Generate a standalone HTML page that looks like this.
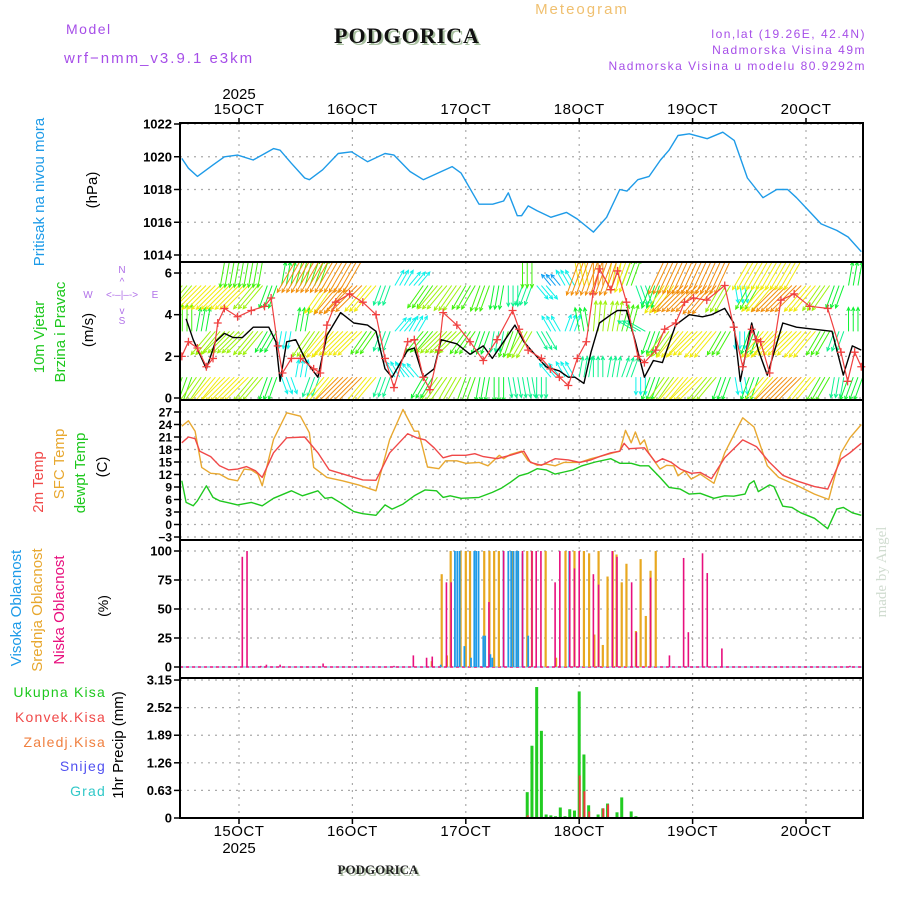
<!DOCTYPE html>
<html><head><meta charset="utf-8"><style>
html,body{margin:0;padding:0;background:#fff;width:900px;height:900px;overflow:hidden}
svg{display:block}
text{font-family:"Liberation Sans",sans-serif}
text.serif{font-family:"Liberation Serif",serif}
</style></head><body>
<svg id="chart" width="900" height="900" viewBox="0 0 900 900" xmlns="http://www.w3.org/2000/svg">
<defs>
<clipPath id="clipWind"><rect x="180" y="263" width="683" height="136"/></clipPath>
</defs>
<g id="header">
<text x="66" y="34" fill="#a64ee8" font-size="14" letter-spacing="1.5">Model</text>
<text x="64" y="63" fill="#a64ee8" font-size="15" letter-spacing="2">wrf−nmm_v3.9.1 e3km</text>
<text class="serif" x="409" y="45" text-anchor="middle" fill="#a8c0a0" font-weight="bold" font-size="22" letter-spacing="1">PODGORICA</text>
<text class="serif" x="407" y="43" text-anchor="middle" fill="#111" font-weight="bold" font-size="22" letter-spacing="1">PODGORICA</text>
<text x="582" y="14" text-anchor="middle" fill="#f0c070" font-size="15" letter-spacing="2">Meteogram</text>
<text x="866" y="38" text-anchor="end" fill="#a64ee8" font-size="12" letter-spacing="1.5">lon,lat (19.26E, 42.4N)</text>
<text x="866" y="54" text-anchor="end" fill="#a64ee8" font-size="12" letter-spacing="1.5">Nadmorska Visina 49m</text>
<text x="866" y="70" text-anchor="end" fill="#a64ee8" font-size="12" letter-spacing="1.5">Nadmorska Visina u modelu 80.9292m</text>
</g>
<g id="grid"></g>
<g id="series"></g>
<g id="frames"></g>
<g id="axes"></g>
<g id="labels">
<text transform="translate(44,192) rotate(-90)" text-anchor="middle" fill="#1e9be8" font-size="15">Pritisak na nivou mora</text>
<text transform="translate(97,190) rotate(-90)" text-anchor="middle" fill="#000" font-size="15">(hPa)</text>
<text transform="translate(44,337) rotate(-90)" text-anchor="middle" fill="#1ec81e" font-size="15">10m Vjetar</text>
<text transform="translate(65,332) rotate(-90)" text-anchor="middle" fill="#1ec81e" font-size="15">Brzina i Pravac</text>
<text transform="translate(93,330) rotate(-90)" text-anchor="middle" fill="#000" font-size="15">(m/s)</text>
<g fill="#b070e8" font-size="10">
<text x="122" y="273" text-anchor="middle">N</text>
<text x="88" y="298" text-anchor="middle">W</text>
<text x="155" y="298" text-anchor="middle">E</text>
<text x="122" y="324" text-anchor="middle">S</text>
<text x="122" y="298" text-anchor="middle">&lt;-–|–-&gt;</text>
<text x="122" y="285" text-anchor="middle">^</text>
<text x="122" y="314" text-anchor="middle">v</text>
</g>
<text transform="translate(43,482) rotate(-90)" text-anchor="middle" fill="#f04848" font-size="15">2m Temp</text>
<text transform="translate(64,464) rotate(-90)" text-anchor="middle" fill="#e8a830" font-size="15">SFC Temp</text>
<text transform="translate(85,473) rotate(-90)" text-anchor="middle" fill="#1ec81e" font-size="15">dewpt Temp</text>
<text transform="translate(107,467) rotate(-90)" text-anchor="middle" fill="#000" font-size="15">(C)</text>
<text transform="translate(21,608) rotate(-90)" text-anchor="middle" fill="#1e9be8" font-size="15">Visoka Oblacnost</text>
<text transform="translate(42,610) rotate(-90)" text-anchor="middle" fill="#e8a830" font-size="15">Srednja Oblacnost</text>
<text transform="translate(64,610) rotate(-90)" text-anchor="middle" fill="#e8107e" font-size="15">Niska Oblacnost</text>
<text transform="translate(108,606) rotate(-90)" text-anchor="middle" fill="#000" font-size="14">(%)</text>
<text x="106" y="697" text-anchor="end" fill="#1ec81e" font-size="14" letter-spacing="1.2">Ukupna Kisa</text>
<text x="106" y="722" text-anchor="end" fill="#f04848" font-size="14" letter-spacing="1.2">Konvek.Kisa</text>
<text x="106" y="747" text-anchor="end" fill="#f08040" font-size="14" letter-spacing="1.2">Zaledj.Kisa</text>
<text x="106" y="771" text-anchor="end" fill="#5050f0" font-size="14" letter-spacing="1.2">Snijeg</text>
<text x="106" y="796" text-anchor="end" fill="#30c8c8" font-size="14" letter-spacing="1.2">Grad</text>
<text transform="translate(123,745) rotate(-90)" text-anchor="middle" fill="#000" font-size="15">1hr Precip (mm)</text>
<text class="serif" transform="translate(886,572) rotate(-90)" text-anchor="middle" fill="#d0dcd0" font-size="15">made by Angel</text>
<text class="serif" x="380" y="876" text-anchor="middle" fill="#b0c0a8" font-weight="bold" font-size="13">PODGORICA</text>
<text class="serif" x="378" y="874" text-anchor="middle" fill="#222" font-weight="bold" font-size="13">PODGORICA</text>
</g>
</svg>
<script>
// ---- data ----
const dayLabels = ["15OCT","16OCT","17OCT","18OCT","19OCT","20OCT"];
const yearLabel = "2025";
const pressTicks = [1014,1016,1018,1020,1022];
const windTicks = [0,2,4,6];
const tempTicks = [-3,0,3,6,9,12,15,18,21,24,27];
const cloudTicks = [0,25,50,75,100];
const precipTicks = [0,0.63,1.26,1.89,2.52,3.15];

const pTimes = [-12.1,-10.7,-8.8,-5.5,-3.1,-0.3,3.0,7.3,8.7,11.1,13.9,14.9,17.7,21.0,23.8,27.2,30.9,32.8,36.2,39.0,45.1,47.0,50.8,53.7,56.0,57.0,58.9,59.8,61.2,63.1,66.0,69.3,71.6,75.0,77.8,80.6,82.1,84.4,86.8,89.2,91.0,92.9,95.3,99.1,102.4,104.8,107.6,110.9,113.8,116.1,118.0,120.9,123.2,126.5,128.9,131.7];
const pVals = [1019.9,1019.3,1018.8,1019.5,1020.0,1020.1,1019.8,1020.5,1020.4,1019.6,1018.7,1018.6,1019.2,1020.2,1020.3,1019.7,1020.2,1020.1,1019.1,1018.6,1019.4,1019.0,1017.1,1017.1,1017.3,1017.8,1016.4,1016.4,1017.0,1016.7,1016.3,1016.6,1016.2,1015.4,1016.3,1018.0,1017.9,1018.6,1018.8,1019.8,1020.4,1021.3,1021.4,1021.1,1021.5,1021.0,1018.7,1017.5,1018.0,1018.0,1017.5,1016.6,1015.9,1015.5,1015.1,1014.2];

const wsTimes = [-11.2,-9.7,-6.9,-5.0,-3.1,-1.2,0.7,3.0,6.3,7.8,8.7,10.1,12.0,14.4,16.7,18.6,21.5,24.3,27.2,29.0,30.9,32.4,35.7,37.1,39.0,41.3,42.8,46.1,48.9,51.7,53.6,56.0,58.4,60.3,62.2,65.0,67.8,69.7,71.1,73.0,74.5,76.3,78.7,80.1,82.0,83.9,85.8,87.7,89.6,92.4,95.3,98.1,100.0,102.8,104.7,106.1,108.5,109.9,111.8,115.1,118.0,121.8,125.5,127.9,129.8,131.7];
const wsVals = [3.8,2.8,1.4,2.7,3.1,2.9,2.9,3.4,3.4,2.7,0.8,2.7,2.8,1.7,1.0,3.0,4.1,3.6,3.5,3.2,1.4,1.0,2.3,2.4,1.0,1.4,2.8,2.6,2.1,2.5,1.9,2.7,3.5,2.7,2.2,1.5,1.3,1.0,1.0,0.7,2.2,3.6,4.0,4.2,4.2,2.7,1.0,1.8,1.7,3.5,4.0,3.9,4.0,4.3,3.6,0.8,3.6,2.3,1.1,3.6,3.4,3.3,3.2,1.1,2.5,2.3];
const gustTimes = [-12.1,-10.7,-8.8,-6.9,-5.5,-4.5,-3.1,-0.3,2.6,5.4,6.8,8.2,9.2,11.1,13.0,15.8,17.2,18.6,20.5,23.4,26.2,29.0,30.9,32.8,35.7,37.1,39.0,40.4,42.3,43.2,46.1,48.9,51.7,54.6,57.9,59.3,61.2,64.0,65.9,67.8,69.7,71.6,73.5,74.9,76.3,78.7,80.1,82.0,84.4,85.8,88.2,90.1,92.4,94.3,96.2,99.0,102.8,104.7,106.6,108.5,109.5,110.4,112.3,114.7,117.5,120.8,124.6,127.4,128.8,130.3,131.7];
const gustVals = [2.0,2.7,2.4,1.5,1.9,3.6,4.3,3.9,4.2,4.4,4.8,2.5,1.2,1.9,1.9,1.4,1.2,3.5,4.6,5.0,4.6,4.0,1.9,0.5,2.7,2.8,1.0,0.4,2.3,4.1,3.5,2.7,1.8,2.8,4.2,3.3,2.3,1.9,1.4,1.0,0.6,1.9,2.7,5.0,6.2,5.2,6.1,4.6,2.0,1.7,2.3,3.3,3.6,4.6,4.8,4.7,5.4,3.4,1.5,3.3,2.8,2.7,1.2,4.7,5.0,4.4,4.3,2.2,0.8,2.2,1.5];

// wind arrow rows: 3-hourly from -12h
const arrowStart = -12;
const arrowStep = 3;
const rowLevels = [1.0, 3.2, 5.4, 6.6];
const dirRow1 = [200,215,220,225,225,220,200,160,10,200,220,225,225,220,200,330,320,210,215,210,200,190,180,170,170,180,320,330,10,0,10,20,180,200,215,220,225,220,200,170,200,220,225,225,220,210,190,200,200];
const spdRow1 = [6,7,8,8,8,7,5,3,3,4,8,9,9,8,4,3,3,5,7,7,6,5,5,4,4,4,3,3,4,4,4,4,3,5,7,8,8,7,5,3,5,8,9,9,8,6,4,5,5];
const dirRow2 = [0,10,220,225,225,220,210,190,10,215,220,225,225,215,200,40,30,220,225,225,215,200,190,200,210,150,330,20,350,5,10,15,300,200,215,220,225,220,210,180,200,220,225,225,220,210,200,0,10];
const spdRow2 = [6,5,7,7,7,7,5,3,5,7,8,8,8,6,4,3,3,6,7,7,6,5,4,6,7,4,3,3,5,7,7,6,4,5,7,8,8,8,6,3,5,8,8,8,8,6,4,5,6];
const dirRow3 = [220,225,225,225,225,220,200,10,15,20,215,220,225,220,200,30,40,215,220,215,210,200,190,180,200,140,320,330,350,0,10,20,160,200,215,225,225,220,210,170,210,220,225,225,220,215,200,10,20];
const spdRow3 = [7,8,8,8,8,7,5,5,6,6,8,9,9,8,4,3,3,6,7,7,6,6,5,4,4,3,2,3,8,9,8,6,4,5,8,9,9,9,7,3,6,8,9,9,8,7,5,5,6];
const dirRow4 = [0,0,0,190,190,190,0,0,210,210,210,210,210,0,0,0,0,0,0,0,0,0,0,0,180,0,0,0,200,200,200,200,0,0,205,205,205,205,205,0,210,210,210,210,0,0,0,0,0];
const spdRow4 = [0,0,0,6,6,6,0,0,9,9,9,9,9,0,0,0,0,0,0,0,0,0,0,0,6,0,0,0,9,9,9,8,0,0,9,9,9,9,9,0,8,8,8,8,0,0,0,0,0];

const t2Times = [-12.1,-10.7,-9.3,-8.3,-6.0,-4.1,-2.2,-0.3,1.6,3.5,4.9,7.3,10.1,13.9,16.7,19.1,21.5,23.8,26.2,29.0,31.9,35.7,37.6,39.4,41.3,43.2,45.1,48.0,49.9,51.7,54.6,57.4,60.3,61.7,64.0,66.9,69.7,72.1,74.5,76.3,78.7,80.6,81.5,82.5,85.8,88.2,89.6,91.5,93.4,95.7,97.6,100.0,102.8,106.6,109.5,112.3,115.1,118.0,121.8,124.6,127.4,129.3,131.7];
const t2Vals = [19.6,21.0,20.6,17.6,16.3,14.1,13.1,13.3,13.9,12.9,11.3,17.2,20.8,21.0,17.2,13.1,12.3,11.5,10.7,10.6,17.2,21.8,20.8,20.3,18.4,16.0,16.6,16.6,17.0,16.3,15.8,16.6,17.6,14.9,14.2,15.8,15.5,14.9,15.5,16.3,17.2,17.6,19.5,18.2,18.4,14.9,15.8,14.9,13.3,12.3,12.5,11.0,16.0,20.3,18.7,14.9,11.8,10.5,9.1,8.5,15.7,17.2,19.5];
const sfcTimes = [-12.1,-10.7,-9.3,-7.9,-6.0,-4.1,-2.2,-0.3,1.1,2.6,4.0,4.9,7.3,10.1,13.0,14.9,15.8,18.6,21.9,25.3,29.0,31.9,34.7,37.1,38.0,39.9,42.3,43.7,46.1,48.0,50.8,52.7,55.1,56.0,57.4,59.8,61.2,63.1,65.0,66.9,68.8,72.1,74.5,76.3,79.2,80.6,81.8,83.0,83.9,84.9,85.8,86.7,89.1,90.5,92.0,92.9,94.3,95.7,97.6,100.5,102.8,106.6,109.0,111.8,114.2,117.5,121.8,124.8,127.4,129.3,131.7];
const sfcVals = [23.6,24.9,22.4,13.7,12.3,12.1,10.9,10.5,13.3,13.1,12.1,9.3,20.4,26.8,26.0,22.0,13.7,11.3,10.5,9.5,8.1,20.4,27.6,22.4,22.4,13.8,13.4,15.3,15.3,14.7,14.9,14.1,16.6,15.8,16.8,17.6,15.3,14.2,14.5,14.1,14.9,14.9,15.8,16.3,17.2,17.6,22.6,19.6,22.2,19.2,20.3,17.2,13.3,14.2,14.1,11.7,12.9,10.9,12.1,9.9,17.2,25.6,23.4,14.1,11.3,9.7,7.3,6.0,17.2,20.8,24.0];
const dewTimes = [-12.1,-11.2,-9.7,-8.8,-6.9,-5.5,-4.1,-2.2,-0.3,2.6,4.9,7.3,11.1,13.4,16.7,18.2,19.6,21.5,24.3,26.2,29.0,30.9,32.4,34.7,37.1,39.4,41.8,43.2,44.7,47.0,50.8,53.6,55.5,57.4,59.3,61.2,63.1,65.0,66.9,68.8,70.7,72.6,75.4,78.7,80.6,83.0,84.9,86.7,89.1,91.0,93.4,95.3,97.6,100.5,102.8,104.7,107.1,108.0,109.0,109.9,112.3,113.2,115.1,117.0,118.9,121.8,124.6,126.5,127.9,129.8,131.7];
const dewVals = [10.5,5.3,4.5,5.7,9.3,6.5,5.7,5.2,4.7,5.3,4.5,6.3,8.1,6.9,8.1,6.3,6.5,5.2,3.1,2.6,2.2,4.7,3.7,4.9,6.9,8.3,8.1,6.5,6.9,6.3,6.5,7.7,8.7,10.1,11.7,12.3,13.4,13.1,12.1,12.6,13.1,14.1,15.0,15.8,14.7,14.7,14.1,14.1,11.3,8.9,8.5,7.3,7.5,6.3,6.9,6.8,7.3,9.7,10.5,7.9,9.5,9.1,4.4,4.1,2.8,1.5,-1.0,3.7,4.1,2.8,2.2];

const lowTimes = [0.7,1.7,4.6,5.8,8.7,17.8,32.8,36.9,39.7,40.9,43.9,44.9,52.9,56.0,60.0,62.0,62.9,63.9,66.9,67.9,70.0,71.0,72.0,75.0,76.1,79.0,80.0,83.1,84.1,87.1,91.1,94.1,95.1,98.1,99.1,102.2,129.3];
const lowVals = [95,100,1,2,2,3,1,10,8,9,73,73,56,100,100,100,100,100,73,100,100,85,100,80,71,100,95,73,30,77,10,94,30,98,81,16,1];
const midTimes = [40.8,42.9,44.0,44.8,46.9,48.0,48.9,51.9,53.0,54.0,55.0,58.0,58.9,61.0,62.0,64.9,67.1,69.1,71.0,73.0,74.1,75.2,76.1,77.0,78.0,79.1,79.9,81.0,82.0,84.0,85.0,86.1,87.1,88.2];
const midVals = [5,80,10,100,100,100,100,100,100,100,100,100,100,100,100,100,8,100,100,100,98,28,100,19,78,100,97,73,89,31,93,44,83,100];
const highTimes = [42.7,45.7,46.2,46.7,47.7,49.1,49.8,50.2,50.7,51.7,52.1,53.2,53.6,56.0,57.0,57.6,58.1,58.7,59.1,60.0,61.2,69.9];
const highVals = [2,100,100,100,18,8,100,100,100,27,27,11,8,100,100,100,100,100,100,98,27,100];

const rainTimes = [61,62,63,64,65,66,67,68,69,70,71,72,73,74,76,77,78,80,81,83,84];
const rainVals = [0.59,1.65,2.99,1.99,0.08,0.06,0.04,0.24,0.04,0.20,0.17,2.89,1.45,0.29,0.08,0.22,0.33,0.13,0.47,0.15,0.04];
const convTimes = [61,69,72,73,74,77,78,81];
const convVals = [0.06,0.02,0.97,0.61,0.15,0.22,0.31,0.02];

// ---- scales ----
const X0 = 180, X1 = 863;
const X = h => 239 + h * 4.725;
const yP = v => 124 + (1022 - v) * 16.375;
const yW = v => 398 - v * 20.83;
const yT = v => 412 + (27 - v) * 4.167;
const yC = v => 667 - v * 1.16;
const yR = v => 818 - v * 43.8;

const NS = "http://www.w3.org/2000/svg";
function mk(tag, attrs, parent) {
  const e = document.createElementNS(NS, tag);
  for (const k in attrs) e.setAttribute(k, attrs[k]);
  parent.appendChild(e);
  return e;
}
const gGrid = document.getElementById('grid');
const gSeries = document.getElementById('series');
const gFrames = document.getElementById('frames');
const gAxes = document.getElementById('axes');

const panels = [
  {name:'pressure', top:123, bot:262, ticks:pressTicks, y:yP, fmt:v=>String(v), fs:13},
  {name:'wind', top:262, bot:400, ticks:windTicks, y:yW, fmt:v=>String(v), fs:13},
  {name:'temp', top:400, bot:540, ticks:tempTicks, y:yT, fmt:v=>(v<0?'−'+(-v):String(v)), fs:12},
  {name:'cloud', top:540, bot:678, ticks:cloudTicks, y:yC, fmt:v=>String(v), fs:13},
  {name:'precip', top:678, bot:818, ticks:precipTicks, y:yR, fmt:v=>(v===0?'0':v.toFixed(2)), fs:13}
];

panels.forEach(p => {
  p.ticks.forEach(v => {
    const y = p.y(v);
    const ln = mk('line', {x1:X0, x2:X1, y1:y, y2:y, stroke:'#aaa', 'stroke-width':1.2, 'stroke-dasharray':'2,5'}, gGrid);
    
    
    const tk = mk('line', {x1:X0-6, x2:X0, y1:y, y2:y, stroke:'#000', 'stroke-width':1.5}, gAxes);
    
    
    const tl = mk('text', {x:X0-8, y:y+4.5, 'text-anchor':'end', 'font-size':p.fs, 'font-weight':'bold', fill:'#000'}, gAxes);
    tl.textContent = p.fmt(v);
    
    
  });
  dayLabels.forEach((d, i) => {
    const x = X(i * 24);
    const vl = mk('line', {x1:x, x2:x, y1:p.top, y2:p.bot, stroke:'#aaa', 'stroke-width':1.2, 'stroke-dasharray':'2,5'}, gGrid);
    
    
  });
  const fr = mk('rect', {x:X0, y:p.top, width:X1-X0, height:p.bot-p.top, fill:'none', stroke:'#000', 'stroke-width':2}, gFrames);
  
  
});

dayLabels.forEach((d, i) => {
  const x = X(i * 24);
  const t1 = mk('text', {x:x, y:114, 'text-anchor':'middle', 'font-size':15, fill:'#000', 'letter-spacing':'0.5'}, gAxes);
  t1.textContent = d;
  
  
  const t2 = mk('text', {x:x, y:836, 'text-anchor':'middle', 'font-size':15, fill:'#000', 'letter-spacing':'0.5'}, gAxes);
  t2.textContent = d;
  
  
  const k1 = mk('line', {x1:x, x2:x, y1:118, y2:124, stroke:'#000', 'stroke-width':1.5}, gAxes);
  
  
  const k2 = mk('line', {x1:x, x2:x, y1:818, y2:824, stroke:'#000', 'stroke-width':1.5}, gAxes);
  
  
});
const y1 = mk('text', {x:X(0), y:99, 'text-anchor':'middle', 'font-size':15, fill:'#000'}, gAxes);
y1.textContent = yearLabel;


const y2 = mk('text', {x:X(0), y:853, 'text-anchor':'middle', 'font-size':15, fill:'#000'}, gAxes);
y2.textContent = yearLabel;



function line(times, vals, yf, color, name, w) {
  const d = times.map((t, i) => (i ? 'L' : 'M') + X(t).toFixed(1) + ',' + yf(vals[i]).toFixed(1)).join('');
  const pth = mk('path', {d:d, fill:'none', stroke:color, 'stroke-width':w || 1.4, 'stroke-linejoin':'round'}, gSeries);
  
  
  return pth;
}

line(pTimes, pVals, yP, '#1e9be8', 'pressure-line');

// wind arrows
const windG = mk('g', {'clip-path':'url(#clipWind)'}, gSeries);


const dirRows = [dirRow1, dirRow2, dirRow3, dirRow4];
const spdRows = [spdRow1, spdRow2, spdRow3, spdRow4];
function spdColor(s) {
  const hue = Math.max(20, 250 - s * 24);
  return 'hsl(' + hue + ',90%,50%)';
}
dirRows.forEach((dirs, r) => {
  dirs.forEach((dir, i) => {
    const s = spdRows[r][i];
    if (!s) return;
    for (let k = 0; k < 3; k++) {
      const h = arrowStart + i * arrowStep + k;
      const x = X(h), y = yW(rowLevels[r]);
      if (x < X0 || x > X1) continue;
      const L = 8 + s * 3.2;
      const a = dir * Math.PI / 180;
      const x2 = x + Math.sin(a) * L, yy2 = y - Math.cos(a) * L;
      const c = spdColor(s);
      const ar = mk('path', {d:'', fill:'none', stroke:c, 'stroke-width':1}, windG);
      const hl = 4, ha = 0.45;
      const b1x = x2 - Math.sin(a - ha) * hl, b1y = yy2 + Math.cos(a - ha) * hl;
      const b2x = x2 - Math.sin(a + ha) * hl, b2y = yy2 + Math.cos(a + ha) * hl;
      ar.setAttribute('d', 'M' + x + ',' + y + 'L' + x2 + ',' + yy2 + 'M' + b1x + ',' + b1y + 'L' + x2 + ',' + yy2 + 'L' + b2x + ',' + b2y);
      
      
    }
  });
});
line(wsTimes, wsVals, yW, '#000', 'wind-speed-line', 1.4);
line(gustTimes, gustVals, yW, '#f04040', 'wind-gust-line', 1.2);
gustTimes.forEach((t, i) => {
  const x = X(t), y = yW(gustVals[i]);
  const m = mk('path', {d:'M' + (x-4) + ',' + y + 'H' + (x+4) + 'M' + x + ',' + (y-4) + 'V' + (y+4), stroke:'#f04040', 'stroke-width':1.3}, gSeries);
  
  
});

line(sfcTimes, sfcVals, yT, '#e8a830', 'sfc-temp-line');
line(t2Times, t2Vals, yT, '#f04848', 'temp-2m-line');
line(dewTimes, dewVals, yT, '#1ec81e', 'dewpoint-line');

const base = mk('line', {x1:X0, x2:X1, y1:yC(0), y2:yC(0), stroke:'#e8107e', 'stroke-width':1.5, 'stroke-dasharray':'3,3'}, gSeries);


const base2 = mk('line', {x1:X0, x2:X1, y1:yC(0), y2:yC(0), stroke:'#9cc8e8', 'stroke-width':1.5, 'stroke-dasharray':'3,3', 'stroke-dashoffset':3}, gSeries);


function bars(times, vals, color, name, yf, w, off) {
  times.forEach((t, i) => {
    const x = X(t) + (off || 0), y = yf(vals[i]), y0 = yf(0);
    const b = mk('rect', {x:x - w/2, y:y, width:w, height:Math.max(0.5, y0 - y), fill:color}, gSeries);
    
    
  });
}
bars(midTimes, midVals, '#e8a820', 'mid-cloud-bar', yC, 2.2, 0);
bars(highTimes, highVals, '#1e9be8', 'high-cloud-bar', yC, 1.8, 0);
bars(lowTimes, lowVals, '#e8107e', 'low-cloud-bar', yC, 1.6, 0);

bars(rainTimes, rainVals, '#22cc22', 'total-rain-bar', yR, 3, 0);
bars(convTimes, convVals, '#ee3a3a', 'convective-rain-bar', yR, 2, 0.5);
</script>
</body></html>
